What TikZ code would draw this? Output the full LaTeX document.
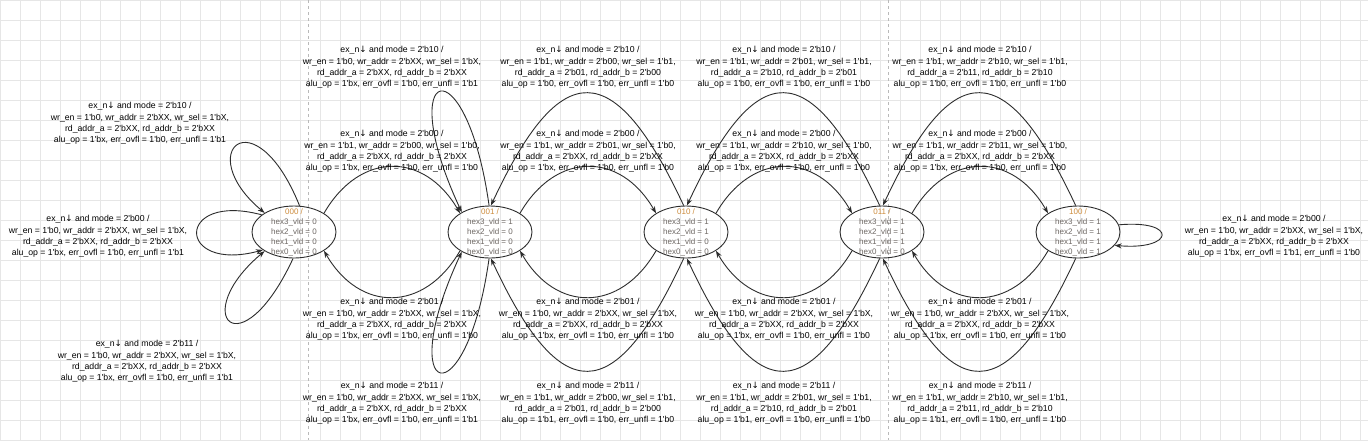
\documentclass[tikz,border=0pt]{standalone}
\usepackage{fontspec}
\setmainfont{Liberation Sans}
\newfontfamily\arrowfont{DejaVu Sans}
\usetikzlibrary{shapes.geometric}
\usetikzlibrary{arrows.meta}
\definecolor{gridcol}{RGB}{230,230,230}
\definecolor{pagecol}{RGB}{185,185,185}
\definecolor{stnum}{RGB}{205,140,60}
\definecolor{sttxt}{RGB}{110,104,100}
\definecolor{edgecol}{RGB}{45,45,45}
\newcommand{\sq}{\textquotesingle}
\newcommand{\evt}[1]{ex\_n{\arrowfont ↓} and mode = 2\sq b#1 /}
\newcommand{\trans}[9]{\evt{#1}\\[1pt]
  wr\_en = 1\sq b#2, wr\_addr = 2\sq b#3, wr\_sel = 1\sq b#4,\\
  rd\_addr\_a = 2\sq b#5, rd\_addr\_b = 2\sq b#6\\
  alu\_op = 1\sq b#7, err\_ovfl = 1\sq b#8, err\_unfl = 1\sq b#9}
\newcommand{\vldtxt}[5]{\textcolor{stnum}{#1 /}\\hex3\_vld = #2\\hex2\_vld = #3\\
  hex1\_vld = #4\\hex0\_vld = #5}
\newcommand{\picw}{1368}
\newcommand{\pich}{440}

\begin{document}
\begin{tikzpicture}[x=1pt,y=1pt,
    state/.style={ellipse,draw=edgecol,line width=0.9pt,minimum width=84pt,minimum height=52pt,inner sep=0pt},
    sttext/.style={align=center,inner sep=0pt,text=sttxt,font=\fontsize{8}{10}\selectfont},
    trlabel/.style={align=center,inner sep=0pt,font=\fontsize{8.7}{11}\selectfont},
    tr/.style={draw=edgecol,line width=0.9pt,-{Stealth[length=7pt,width=5pt]}}]
    % page with grid
    \useasboundingbox (0,0) rectangle (\picw,-\pich);
    \fill[white] (0,0) rectangle (\picw,-\pich);
    \draw[gridcol,line width=0.7pt,step=20] (0,-\pich) grid (\picw,0);
    \draw[pagecol,line width=0.8pt,dashed] (308,0) -- (308,-\pich);
    \draw[pagecol,line width=0.8pt,dashed] (888,0) -- (888,-\pich);

    % states
    \node[state] (s000) at (294,-232) {};
    \node[sttext] (t000) at (s000) {\vldtxt{000}{0}{0}{0}{0}};
    \node[state] (s001) at (490,-232) {};
    \node[sttext] (t001) at (s001) {\vldtxt{001}{1}{0}{0}{0}};
    \node[state] (s010) at (686,-232) {};
    \node[sttext] (t010) at (s010) {\vldtxt{010}{1}{1}{0}{0}};
    \node[state] (s011) at (882,-232) {};
    \node[sttext] (t011) at (s011) {\vldtxt{011}{1}{1}{1}{0}};
    \node[state] (s100) at (1078,-232) {};
    \node[sttext] (t100) at (s100) {\vldtxt{100}{1}{1}{1}{1}};

    % push arcs
    \draw[tr] (s000.32) to[out=60,in=120,looseness=1.35] (s001.148);
    \draw[tr] (s001.32) to[out=60,in=120,looseness=1.35] (s010.148);
    \draw[tr] (s010.32) to[out=60,in=120,looseness=1.35] (s011.148);
    \draw[tr] (s011.32) to[out=60,in=120,looseness=1.35] (s100.148);
    % pop arcs
    \draw[tr] (s001.-148) to[out=-120,in=-60,looseness=1.35] (s000.-32);
    \draw[tr] (s010.-148) to[out=-120,in=-60,looseness=1.35] (s001.-32);
    \draw[tr] (s011.-148) to[out=-120,in=-60,looseness=1.35] (s010.-32);
    \draw[tr] (s100.-148) to[out=-120,in=-60,looseness=1.35] (s011.-32);
    % operation arcs
    \draw[tr] (s010.95) to[out=115,in=65,looseness=2.2] (s001.88);
    \draw[tr] (s011.95) to[out=115,in=65,looseness=2.2] (s010.88);
    \draw[tr] (s100.95) to[out=115,in=65,looseness=2.2] (s011.88);
    \draw[tr] (s010.-95) to[out=-115,in=-65,looseness=2.2] (s001.-88);
    \draw[tr] (s011.-95) to[out=-115,in=-65,looseness=2.2] (s010.-88);
    \draw[tr] (s100.-95) to[out=-115,in=-65,looseness=2.2] (s011.-88);
    % self loops
    \draw[tr] (s000.78) to[out=112,in=140,out distance=120,in distance=95] (s000.147);
    \draw[tr] (s000.152) to[out=165,in=195,distance=90] (s000.-150);
    \draw[tr] (s000.-92) to[out=-115,in=-140,out distance=125,in distance=100] (s000.-147);
    \draw[tr] (s001.92) to[out=98,in=115,distance=165] (s001.145);
    \draw[tr] (s001.-92) to[out=-98,in=-115,distance=165] (s001.-145);
    \draw[tr] (s100.10) to[out=5,in=-5,distance=60] (s100.-20);

    % labels round 000
    \node[trlabel] (l000t) at (140,-123) {\trans{10}{0}{XX}{X}{XX}{XX}{x}{0}{1}};
    \node[trlabel] (l000l) at (98,-236) {\trans{00}{0}{XX}{X}{XX}{XX}{x}{0}{1}};
    \node[trlabel] (l000b) at (147,-361) {\trans{11}{0}{XX}{X}{XX}{XX}{x}{0}{1}};
    % labels 000 - 001
    \node[trlabel] (l001t) at (392,-67) {\trans{10}{0}{XX}{X}{XX}{XX}{x}{0}{1}};
    \node[trlabel] (l001u) at (392,-151) {\trans{00}{1}{00}{0}{XX}{XX}{x}{0}{0}};
    \node[trlabel] (l001d) at (392,-319) {\trans{01}{0}{XX}{X}{XX}{XX}{x}{0}{0}};
    \node[trlabel] (l001b) at (392,-403) {\trans{11}{0}{XX}{X}{XX}{XX}{x}{0}{1}};
    % labels 001 - 010
    \node[trlabel] (l010t) at (588,-67) {\trans{10}{1}{00}{1}{01}{00}{0}{0}{0}};
    \node[trlabel] (l010u) at (588,-151) {\trans{00}{1}{01}{0}{XX}{XX}{x}{0}{0}};
    \node[trlabel] (l010d) at (588,-319) {\trans{01}{0}{XX}{X}{XX}{XX}{x}{0}{0}};
    \node[trlabel] (l010b) at (588,-403) {\trans{11}{1}{00}{1}{01}{00}{1}{0}{0}};
    % labels 010 - 011
    \node[trlabel] (l011t) at (784,-67) {\trans{10}{1}{01}{1}{10}{01}{0}{0}{0}};
    \node[trlabel] (l011u) at (784,-151) {\trans{00}{1}{10}{0}{XX}{XX}{x}{0}{0}};
    \node[trlabel] (l011d) at (784,-319) {\trans{01}{0}{XX}{X}{XX}{XX}{x}{0}{0}};
    \node[trlabel] (l011b) at (784,-403) {\trans{11}{1}{01}{1}{10}{01}{1}{0}{0}};
    % labels 011 - 100
    \node[trlabel] (l100t) at (980,-67) {\trans{10}{1}{10}{1}{11}{10}{0}{0}{0}};
    \node[trlabel] (l100u) at (980,-151) {\trans{00}{1}{11}{0}{XX}{XX}{x}{0}{0}};
    \node[trlabel] (l100d) at (980,-319) {\trans{01}{0}{XX}{X}{XX}{XX}{x}{0}{0}};
    \node[trlabel] (l100b) at (980,-403) {\trans{11}{1}{10}{1}{11}{10}{1}{0}{0}};
    % label right of 100
    \node[trlabel] (l100r) at (1274,-236) {\trans{00}{0}{XX}{X}{XX}{XX}{x}{1}{0}};
\end{tikzpicture}
\end{document}
